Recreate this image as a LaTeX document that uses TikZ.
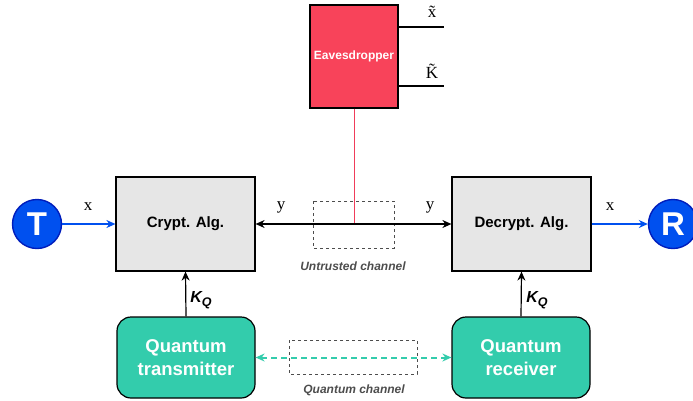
\documentclass[tikz,border=0pt]{standalone}
\usepackage{fontspec}
\setmainfont{Liberation Sans}
\newfontfamily\serifx{Liberation Serif}
\usetikzlibrary{arrows.meta}
\definecolor{tblue}{HTML}{0050EF}
\definecolor{tbluedk}{HTML}{001DBC}
\definecolor{evred}{HTML}{F8435A}
\definecolor{qteal}{HTML}{33CCAC}
\definecolor{algray}{HTML}{E6E6E6}
\definecolor{dashgray}{HTML}{4D4D4D}
\definecolor{lblgray}{HTML}{4D4D4D}
\definecolor{redline}{HTML}{F03C5A}
\tikzset{
  algbox/.style={draw=black, line width=1.2pt, fill=algray, minimum width=139pt, minimum height=94pt, font=\bfseries\fontsize{15}{18}\selectfont},
  qbox/.style={draw=black, line width=1.2pt, fill=qteal, rounded corners=14pt, minimum width=138pt, minimum height=81pt, text=white, align=center, font=\bfseries\fontsize{18.5}{23}\selectfont},
  endpt/.style={circle, draw=tbluedk, line width=1.4pt, fill=tblue, minimum size=49pt, inner sep=0pt, text=white, font=\bfseries\fontsize{33}{35}\selectfont},
  chbox/.style={draw=dashgray, dashed, line width=1pt},
  chlabel/.style={text=lblgray, font=\bfseries\itshape\fontsize{12}{14}\selectfont},
  sig/.style={font=\serifx\fontsize{17}{19}\selectfont},
  arr/.style={-{Stealth[length=9pt,width=8pt]}, line width=1.2pt},
}
\begin{document}
\begin{tikzpicture}[x=1pt,y=-1pt]
\useasboundingbox (0,0) rectangle (693,400);
% boxes
\node[algbox] (crypt) at (185.5,224) {Crypt. Alg.};
\node[algbox] (decrypt) at (521.5,224) {Decrypt. Alg.};
\node[draw=black, line width=1.2pt, fill=evred, minimum width=88pt, minimum height=103pt, text=white, font=\bfseries\fontsize{12}{14}\selectfont, inner sep=1pt] (eve) at (354,56.5) {Eavesdropper};
\node[qbox] (qt) at (186,357.5) {Quantum\\transmitter};
\node[qbox] (qr) at (521,357.5) {Quantum\\receiver};
\node[endpt] (T) at (37,224) {T};
\node[endpt] (R) at (673,224) {R};
% channel boxes
\coordinate (ub1) at (313,201);
\coordinate (ub2) at (394,248);
\draw[chbox] (ub1) rectangle (ub2);
\node[chlabel] (ul) at (353,266) {Untrusted channel};
\coordinate (qb1) at (289,340);
\coordinate (qb2) at (417,374);
\draw[chbox] (qb1) rectangle (qb2);
\node[chlabel] (ql) at (354,390) {Quantum channel};
% eavesdropper outputs
\coordinate (o1) at (444,27);
\coordinate (o2) at (444,86);
\draw[line width=1.2pt] (eve.east |- o1) -- (o1);
\draw[line width=1.2pt] (eve.east |- o2) -- (o2);
\node[sig] (xt) at (432,12) {\~{x}};
\node[sig] (kt) at (432,71) {\~{K}};
% red tap line
\coordinate (tap) at (354,224);
\draw[redline, line width=1pt] (eve.south) -- (tap);
% untrusted channel
\draw[{Stealth[length=9pt,width=8pt]}-{Stealth[length=9pt,width=8pt]}, line width=1.2pt] (crypt.east) -- (decrypt.west);
\node[sig] (y1) at (281,207) {y};
\node[sig] (y2) at (430,207) {y};
% blue arrows
\draw[arr, draw=tblue, fill=tblue] (T.east) -- (crypt.west);
\draw[arr, draw=tblue, fill=tblue] (decrypt.east) -- (R.west);
\node[sig] (x1) at (88,207) {x};
\node[sig] (x2) at (610,207) {x};
% key arrows
\draw[arr] (qt.north) -- (crypt.south);
\draw[arr] (qr.north) -- (decrypt.south);
\node[font=\bfseries\itshape\fontsize{16}{18}\selectfont] (k1) at (201,300) {K\raisebox{-3.5pt}{\fontsize{12.5}{14}\selectfont Q}};
\node[font=\bfseries\itshape\fontsize{16}{18}\selectfont] (k2) at (537,300) {K\raisebox{-3.5pt}{\fontsize{12.5}{14}\selectfont Q}};
% quantum channel
\draw[qteal, dash pattern=on 6pt off 4pt, line width=2pt, {Stealth[length=9pt,width=8pt]}-{Stealth[length=9pt,width=8pt]}] (qt.east) -- (qr.west);
\end{tikzpicture}
\end{document}
